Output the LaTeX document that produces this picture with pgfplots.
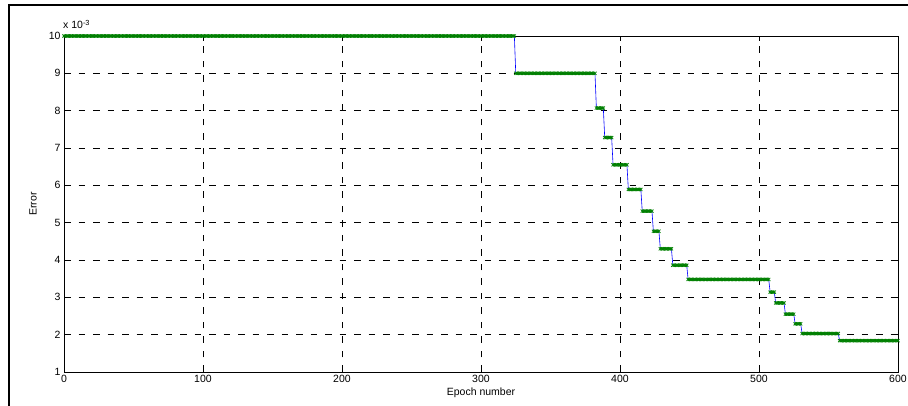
\documentclass[border=0pt]{standalone}
\usepackage{fontspec}
\setmainfont{Liberation Sans}
\usepackage{pgfplots}
\usepackage{pgfplotstable}
\pgfplotsset{compat=1.18}
\definecolor{mgreen}{rgb}{0,0.5,0}
\definecolor{mblue}{rgb}{0,0,1}
% error per epoch (units of 1e-3), epochs 0..600
\pgfplotstableread[header=false,row sep=\\]{
10\\10\\10\\10\\10\\ 10\\10\\10\\10\\10\\ 10\\10\\10\\10\\10\\ 10\\10\\10\\10\\10\\ 10\\10\\10\\10\\10\\
10\\10\\10\\10\\10\\ 10\\10\\10\\10\\10\\ 10\\10\\10\\10\\10\\ 10\\10\\10\\10\\10\\ 10\\10\\10\\10\\10\\
10\\10\\10\\10\\10\\ 10\\10\\10\\10\\10\\ 10\\10\\10\\10\\10\\ 10\\10\\10\\10\\10\\ 10\\10\\10\\10\\10\\
10\\10\\10\\10\\10\\ 10\\10\\10\\10\\10\\ 10\\10\\10\\10\\10\\ 10\\10\\10\\10\\10\\ 10\\10\\10\\10\\10\\
10\\10\\10\\10\\10\\ 10\\10\\10\\10\\10\\ 10\\10\\10\\10\\10\\ 10\\10\\10\\10\\10\\ 10\\10\\10\\10\\10\\
10\\10\\10\\10\\10\\ 10\\10\\10\\10\\10\\ 10\\10\\10\\10\\10\\ 10\\10\\10\\10\\10\\ 10\\10\\10\\10\\10\\
10\\10\\10\\10\\10\\ 10\\10\\10\\10\\10\\ 10\\10\\10\\10\\10\\ 10\\10\\10\\10\\10\\ 10\\10\\10\\10\\10\\
10\\10\\10\\10\\10\\ 10\\10\\10\\10\\10\\ 10\\10\\10\\10\\10\\ 10\\10\\10\\10\\10\\ 10\\10\\10\\10\\10\\
10\\10\\10\\10\\10\\ 10\\10\\10\\10\\10\\ 10\\10\\10\\10\\10\\ 10\\10\\10\\10\\10\\ 10\\10\\10\\10\\10\\
10\\10\\10\\10\\10\\ 10\\10\\10\\10\\10\\ 10\\10\\10\\10\\10\\ 10\\10\\10\\10\\10\\ 10\\10\\10\\10\\10\\
10\\10\\10\\10\\10\\ 10\\10\\10\\10\\10\\ 10\\10\\10\\10\\10\\ 10\\10\\10\\10\\10\\ 10\\10\\10\\10\\10\\
10\\10\\10\\10\\10\\ 10\\10\\10\\10\\10\\ 10\\10\\10\\10\\10\\ 10\\10\\10\\10\\10\\ 10\\10\\10\\10\\10\\
10\\10\\10\\10\\10\\ 10\\10\\10\\10\\10\\ 10\\10\\10\\10\\10\\ 10\\10\\10\\10\\10\\ 10\\10\\10\\10\\10\\
9\\9\\9\\9\\9\\ 9\\9\\9\\9\\9\\ 9\\9\\9\\9\\9\\ 9\\9\\9\\9\\9\\ 9\\9\\9\\9\\9\\
9\\9\\9\\9\\9\\ 9\\9\\9\\9\\9\\ 9\\9\\9\\9\\9\\ 9\\9\\9\\9\\9\\ 9\\9\\9\\9\\9\\
9\\9\\9\\9\\9\\ 9\\9\\9\\
8.07\\8.07\\8.07\\8.07\\8.07\\8.07\\
7.28\\7.28\\7.28\\7.28\\7.28\\7.28\\
6.55\\6.55\\6.55\\6.55\\6.55\\ 6.55\\6.55\\6.55\\6.55\\6.55\\ 6.55\\
5.89\\5.89\\5.89\\5.89\\5.89\\ 5.89\\5.89\\5.89\\5.89\\5.89\\
5.31\\5.31\\5.31\\5.31\\5.31\\ 5.31\\5.31\\5.31\\
4.77\\4.77\\4.77\\4.77\\4.77\\
4.30\\4.30\\4.30\\4.30\\4.30\\ 4.30\\4.30\\4.30\\4.30\\
3.86\\3.86\\3.86\\3.86\\3.86\\ 3.86\\3.86\\3.86\\3.86\\3.86\\ 3.86\\
3.48\\3.48\\3.48\\3.48\\3.48\\ 3.48\\3.48\\3.48\\3.48\\3.48\\ 3.48\\3.48\\3.48\\3.48\\3.48\\ 3.48\\3.48\\3.48\\3.48\\3.48\\ 3.48\\3.48\\3.48\\3.48\\3.48\\
3.48\\3.48\\3.48\\3.48\\3.48\\ 3.48\\3.48\\3.48\\3.48\\3.48\\ 3.48\\3.48\\3.48\\3.48\\3.48\\ 3.48\\3.48\\3.48\\3.48\\3.48\\ 3.48\\3.48\\3.48\\3.48\\3.48\\
3.48\\3.48\\3.48\\3.48\\3.48\\ 3.48\\3.48\\3.48\\3.48\\
3.14\\3.14\\3.14\\3.14\\
2.85\\2.85\\2.85\\2.85\\2.85\\ 2.85\\2.85\\
2.55\\2.55\\2.55\\2.55\\2.55\\ 2.55\\2.55\\
2.29\\2.29\\2.29\\2.29\\2.29\\
2.03\\2.03\\2.03\\2.03\\2.03\\ 2.03\\2.03\\2.03\\2.03\\2.03\\ 2.03\\2.03\\2.03\\2.03\\2.03\\ 2.03\\2.03\\2.03\\2.03\\2.03\\ 2.03\\2.03\\2.03\\2.03\\2.03\\
2.03\\2.03\\
1.84\\1.84\\1.84\\1.84\\1.84\\ 1.84\\1.84\\1.84\\1.84\\1.84\\ 1.84\\1.84\\1.84\\1.84\\1.84\\ 1.84\\1.84\\1.84\\1.84\\1.84\\ 1.84\\1.84\\1.84\\1.84\\1.84\\
1.84\\1.84\\1.84\\1.84\\1.84\\ 1.84\\1.84\\1.84\\1.84\\1.84\\ 1.84\\1.84\\1.84\\1.84\\1.84\\ 1.84\\1.84\\1.84\\
}\errdata
\begin{document}
\begin{tikzpicture}[x=1pt,y=1pt,font=\fontsize{10.5}{12}\selectfont]
\useasboundingbox (0,0) rectangle (908,406);
\draw[line width=1.6pt] (9,0) -- (9,401) -- (908,401);
\begin{axis}[
  at={(64pt,34pt)}, anchor=south west,
  scale only axis, width=834pt, height=336pt,
  xmin=0, xmax=600, ymin=1, ymax=10,
  xtick={0,100,...,600}, ytick={1,2,...,10},
  grid=major,
  grid style={black, line width=0.45pt, dash pattern=on 6.5pt off 8pt},
  tick align=inside, major tick length=5pt,
  axis line style={black, line width=0.7pt},
  tick style={black, line width=0.6pt},
  /pgf/number format/assume math mode=true,
  tick label style={font=\fontsize{10.5}{12}\selectfont},
  xlabel={Epoch number}, ylabel={Error},
  xlabel style={at={(axis description cs:0.5,0)}, anchor=base, yshift=-24pt},
  ylabel style={at={(axis description cs:-0.0372,0.5)}, anchor=center},
  clip=false,
]
\addplot[mblue, line width=0.6pt, mark=x, mark size=2.2pt,
  mark options={mgreen, line width=0.8pt}]
  table[x expr=\coordindex, y index=0] {\errdata};
\end{axis}
\node[anchor=base west, inner sep=0pt] at (63,377) {x 10\textsuperscript{-3}};
\end{tikzpicture}
\end{document}
